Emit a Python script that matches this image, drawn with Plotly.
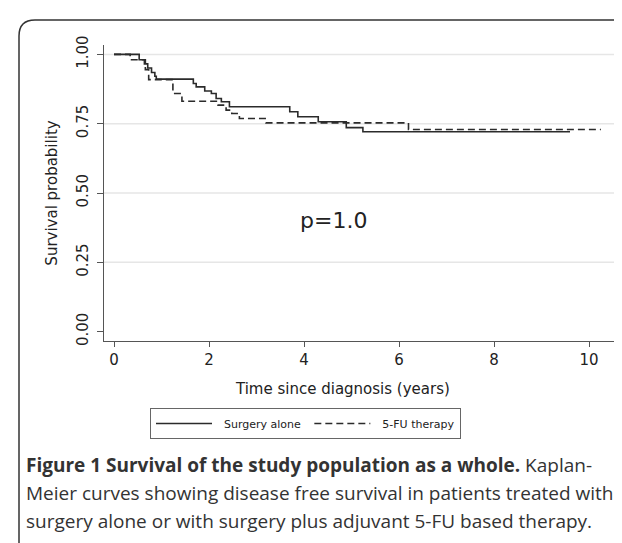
import plotly.graph_objects as go

# ---- data ----
surgery_t = [0.0, 0.53, 0.64, 0.71, 0.79, 0.86, 0.89, 1.67, 1.73, 1.91, 2.05, 2.15, 2.26, 2.43, 3.70, 3.87, 4.30, 4.89, 5.24, 9.6]
surgery_s = [1.0, 0.981, 0.966, 0.951, 0.935, 0.921, 0.911, 0.895, 0.883, 0.868, 0.859, 0.841, 0.829, 0.811, 0.793, 0.775, 0.757, 0.736, 0.721, 0.721]

fu_t = [0.0, 0.34, 0.66, 0.73, 1.24, 1.43, 2.19, 2.36, 2.48, 2.64, 3.20, 6.2, 10.25]
fu_s = [1.0, 0.981, 0.945, 0.909, 0.859, 0.831, 0.817, 0.799, 0.787, 0.769, 0.753, 0.729, 0.729]

x_ticks = [0, 2, 4, 6, 8, 10]
y_ticks = [0.0, 0.25, 0.5, 0.75, 1.0]
y_tick_labels = ["0.00", "0.25", "0.50", "0.75", "1.00"]
grid_vals = [0.25, 0.5, 0.75, 1.0]

series_names = ["Surgery alone", "5-FU therapy"]
x_title = "Time since diagnosis (years)"
y_title = "Survival probability"
caption_lines = [
    "<b>Figure 1 Survival of the study population as a whole.</b> Kaplan-",
    "Meier curves showing disease free survival in patients treated with",
    "surgery alone or with surgery plus adjuvant 5-FU based therapy.",
]
p_text = "p=1.0"

# ---- layout geometry (pixels) ----
FW, FH = 622, 543
L, R, T, B = 96, 607, 37, 333
PW, PH = R - L, B - T
X0_PX, PX_PER_YEAR = 106, 47.5


def px2x(px):
    return (px - L) / PW


def px2y(py):
    return (B - py) / PH


x_lo = (L - X0_PX) / PX_PER_YEAR
x_hi = (R - X0_PX) / PX_PER_YEAR

CHART_FONT = "DejaVu Sans"
LINE_COL = "#2b2b2b"
NB = "\u00a0\u00a0"

fig = go.Figure()
fig.add_trace(go.Scatter(x=surgery_t, y=surgery_s, mode="lines", line_shape="hv",
                         name=NB + series_names[0] + "\u00a0",
                         line=dict(color=LINE_COL, width=1.6)))
fig.add_trace(go.Scatter(x=fu_t, y=fu_s, mode="lines", line_shape="hv",
                         name=NB + series_names[1],
                         line=dict(color=LINE_COL, width=1.6, dash="7px,4px")))

shapes = []
for g in grid_vals:
    shapes.append(dict(type="line", xref="paper", yref="y", x0=0, x1=1, y0=g, y1=g,
                       line=dict(color="#e6e6e6", width=1.5), layer="below"))

# outer frame with rounded top-left corner
fx0, fy0 = px2x(11), px2y(543)
path = (f"M {fx0},{fy0} L {fx0},{px2y(28)} "
        f"Q {fx0},{px2y(12)} {px2x(27)},{px2y(12)} "
        f"L {px2x(622)},{px2y(12)}")
shapes.append(dict(type="path", xref="paper", yref="paper", path=path,
                   line=dict(color="#333333", width=1.5)))

annotations = [
    dict(x=px2x(325), y=px2y(213), xref="paper", yref="paper", text=p_text,
         showarrow=False, font=dict(family=CHART_FONT, size=22, color="#222222"),
         xanchor="center", yanchor="middle"),
    dict(x=px2x(334), y=px2y(381), xref="paper", yref="paper", text=x_title,
         showarrow=False, font=dict(family=CHART_FONT, size=15, color="#222222"),
         xanchor="center", yanchor="middle"),
]
cap_y = [457, 485, 513]
for txt, cy in zip(caption_lines, cap_y):
    annotations.append(dict(x=px2x(16), y=px2y(cy), xref="paper", yref="paper", text=txt,
                            showarrow=False, xanchor="left", yanchor="middle", align="left",
                            font=dict(family="Open Sans", size=19, color="#333333")))

fig.update_layout(
    width=FW, height=FH,
    margin=dict(l=L, r=FW - R, t=T, b=FH - B, pad=0),
    paper_bgcolor="white", plot_bgcolor="white",
    font=dict(family=CHART_FONT, color="#222222"),
    showlegend=True,
    legend=dict(orientation="h", x=px2x(142), y=px2y(400), xanchor="left", yanchor="top",
                bordercolor="#666666", borderwidth=1, bgcolor="white",
                font=dict(family=CHART_FONT, size=11, color="#222222"),
                itemwidth=56, tracegroupgap=0),
    xaxis=dict(range=[x_lo, x_hi], tickvals=x_ticks, ticks="outside", ticklen=5,
               tickcolor="#555555", showline=True, linecolor="#555555", linewidth=1,
               showgrid=False, zeroline=False,
               tickfont=dict(family=CHART_FONT, size=15, color="#222222")),
    yaxis=dict(range=[-0.034, 1.034], tickvals=y_ticks, ticktext=y_tick_labels,
               tickangle=-90, ticks="outside", ticklen=6, ticklabelstandoff=3,
               tickcolor="#555555", showline=True, linecolor="#555555", linewidth=1,
               showgrid=False, zeroline=False,
               tickfont=dict(family=CHART_FONT, size=15, color="#222222"),
               title=dict(text=y_title, standoff=12,
                          font=dict(family=CHART_FONT, size=15, color="#222222"))),
    shapes=shapes,
    annotations=annotations,
)

fig.write_html("out.html")
